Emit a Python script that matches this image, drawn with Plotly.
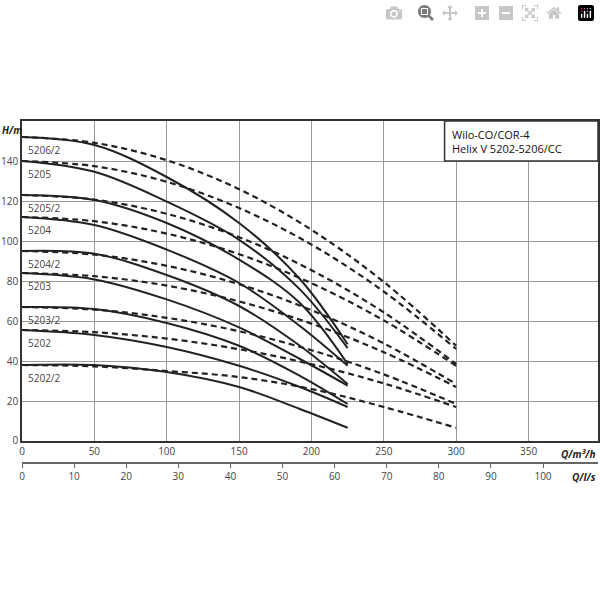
import plotly.graph_objects as go

names = ["5206/2","5205","5205/2","5204","5204/2","5203","5203/2","5202","5202/2"]
q_solid = [0, 50, 100, 150, 192, 225]
h_solid = [
    [152, 148, 132, 109, 81, 48.4],
    [140, 134.6, 119.7, 100.6, 75.8, 46.4],
    [123, 120.5, 109, 90.7, 69, 38.5],
    [112, 108, 95.7, 79, 57.5, 37.6],
    [95, 93.6, 83, 67.5, 47.6, 28.5],
    [84, 80.8, 70.8, 56.8, 41, 27.7],
    [67, 66, 59, 47.6, 32.6, 18.5],
    [55.5, 53, 47, 37.6, 27, 17],
    [38, 38, 34.5, 27, 16, 6.6],
]
q_dash = [0, 50, 100, 150, 200, 250, 300]
h_dash = [
    [152, 149.1, 140.4, 125.9, 105.6, 79.5, 47.6],
    [140, 137.4, 129.6, 116.5, 98.2, 74.7, 46],
    [123, 120.7, 113.6, 101.9, 85.4, 64.3, 38.5],
    [112, 109.9, 103.7, 93.4, 78.9, 60.3, 37.6],
    [95, 93.2, 87.6, 78.4, 65.4, 48.8, 28.5],
    [84, 82.4, 77.7, 69.8, 58.7, 44.4, 27],
    [67, 65.7, 61.6, 54.9, 45.4, 33.3, 18.5],
    [55.5, 54.4, 51.2, 45.9, 38.4, 28.8, 17],
    [38, 37.3, 35, 32, 26, 17, 6.6],
]
x_ticks = [0, 50, 100, 150, 200, 250, 300, 350]
y_ticks = [0, 20, 40, 60, 80, 100, 120, 140]
ls_ticks = [0, 10, 20, 30, 40, 50, 60, 70, 80, 90, 100]

FONT = "Open Sans"
TC = "#444"
fig = go.Figure()
for n, h in zip(names, h_dash):
    fig.add_trace(go.Scatter(x=q_dash, y=h, mode="lines", line=dict(color="#222", width=2.2, dash="6px,4px", shape="spline"), showlegend=False))
for n, h in zip(names, h_solid):
    fig.add_trace(go.Scatter(x=q_solid, y=h, mode="lines", line=dict(color="#222", width=2, shape="spline"), showlegend=False))
for n, h in zip(names, h_solid):
    fig.add_annotation(x=3, y=h[0] - 2, text=n, showarrow=False, xanchor="left", yanchor="top",
                       font=dict(family=FONT, size=10, color=TC))
fig.add_trace(go.Scatter(x=[0, 111], y=[0, 0], xaxis="x2", yaxis="y2", mode="lines", line=dict(width=0), showlegend=False, hoverinfo="skip"))

fig.update_layout(
    width=600, height=600, plot_bgcolor="white", paper_bgcolor="white",
    margin=dict(l=22, r=2, t=121, b=138),
    font=dict(family=FONT, size=10, color=TC),
    xaxis=dict(range=[0, 398], tickvals=x_ticks, showgrid=True, gridcolor="#999", gridwidth=1, automargin=False,
               showline=True, linecolor="#333", linewidth=1.5, mirror=True, ticks="", zeroline=False, anchor="y"),
    yaxis=dict(range=[0, 160], tickvals=y_ticks, showgrid=True, gridcolor="#999", gridwidth=1, automargin=False,
               showline=True, linecolor="#333", linewidth=1.5, mirror=True, ticks="", zeroline=False,
               domain=[0.0616, 1]),
    xaxis2=dict(range=[0, 398 / 3.6], tickvals=ls_ticks, anchor="y2", showline=True, linecolor="#666", automargin=False,
                linewidth=1.5, ticks="outside", ticklen=4, tickcolor="#666", showgrid=False, zeroline=False),
    yaxis2=dict(domain=[0, 0.001], visible=False, range=[0, 1]),
)
fig.add_annotation(xref="paper", yref="y", x=-0.038, y=160, text="<b><i>H/m</i></b>", showarrow=False,
                   xanchor="left", yanchor="top", font=dict(size=10, color="#222"))
fig.add_annotation(xref="paper", yref="paper", x=1.0, y=0.0616, text="<b><i>Q/m³/h</i></b>", showarrow=False,
                   xanchor="right", yanchor="top", yshift=-4, font=dict(size=10, color="#222"))
fig.add_annotation(xref="paper", yref="paper", x=1.0, y=0, text="<b><i>Q/l/s</i></b>", showarrow=False,
                   xanchor="right", yanchor="top", yshift=-6, font=dict(size=10, color="#222"))
fig.add_shape(type="rect", xref="x", yref="y", x0=292, x1=398, y0=140, y1=160, fillcolor="white",
              line=dict(color="#333", width=1.5))
fig.add_annotation(xref="x", yref="y", x=296, y=150, text="Wilo-CO/COR-4<br>Helix V 5202-5206/CC",
                   showarrow=False, xanchor="left", align="left", font=dict(size=11, color="#111"))
fig.write_html("out.html", post_script="document.body.style.margin='0';document.body.style.overflow='hidden';")
